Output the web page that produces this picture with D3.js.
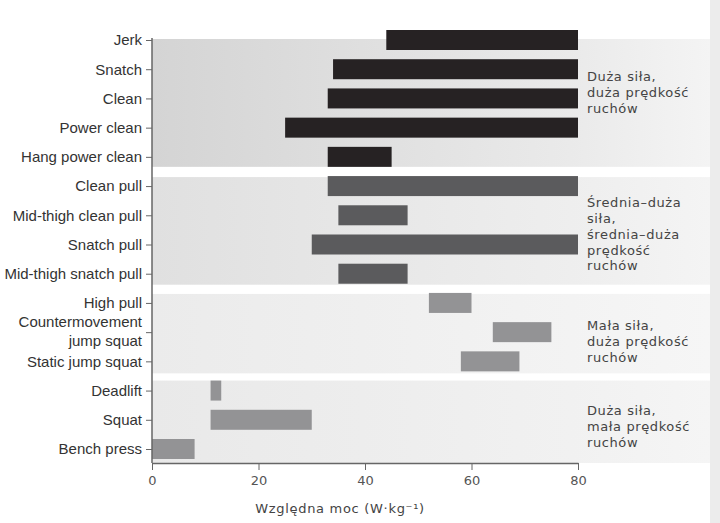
<!DOCTYPE html>
<html><head><meta charset="utf-8">
<script src="https://cdn.jsdelivr.net/npm/d3@7/dist/d3.min.js"></script>
<style>body{margin:0;background:#fff}svg{display:block}</style>
</head><body>
<svg id="c" width="720" height="523"></svg>
<script>
const categories = ["Jerk","Snatch","Clean","Power clean","Hang power clean","Clean pull","Mid-thigh clean pull","Snatch pull","Mid-thigh snatch pull","High pull","Countermovement jump squat","Static jump squat","Deadlift","Squat","Bench press"];
const startValues = [44,34,33,25,33,33,35,30,35,52,64,58,11,11,0];
const endValues   = [80,80,80,80,45,80,48,80,48,60,75,69,13,30,8];
const groupOf     = [0,0,0,0,0,1,1,1,1,2,2,2,3,3,3];
const groupLabels = [
  ["Duża siła,","duża prędkość","ruchów"],
  ["Średnia–duża","siła,","średnia–duża","prędkość","ruchów"],
  ["Mała siła,","duża prędkość","ruchów"],
  ["Duża siła,","mała prędkość","ruchów"]
];
const groupFirst = ["Jerk","Clean pull","High pull","Deadlift"];
const groupLast  = ["Hang power clean","Mid-thigh snatch pull","Static jump squat","Bench press"];
const xTicks = [0,20,40,60,80];
const xTitle = "Względna moc (W·kg⁻¹)";

const svg = d3.select("#c");
const x = d3.scaleLinear().domain([0,80]).range([152,578]);
const y = d3.scalePoint().domain(categories).range([40,449]);
const barColors = ["#262223","#5b5b5d","#939395","#939395"];
const bandLeft = ["#d4d4d4","#e0e0e0","#ebebeb","#e9e9e9"];
const bandRight = ["#f4f4f4","#f4f4f4","#f6f6f6","#f5f5f5"];
const defs = svg.append("defs");
const bandTops = [y("Jerk")-1, y("Clean pull")-9, y("High pull")-9, y("Deadlift")-10];
const bandBottoms = [y("Hang power clean")+10, y("Mid-thigh snatch pull")+11, y("Static jump squat")+12, 463];

// right strip
svg.append("rect").attr("x",710).attr("y",0).attr("width",10).attr("height",523).attr("fill","#ececec");

groupFirst.forEach((g,i)=>{
  const gr = defs.append("linearGradient").attr("id","bg"+i).attr("x1","0").attr("x2","1").attr("y1","0").attr("y2","0");
  gr.append("stop").attr("offset","0").attr("stop-color",bandLeft[i]);
  gr.append("stop").attr("offset","0.75").attr("stop-color",d3.interpolateRgb(bandLeft[i],bandRight[i])(0.7));
  gr.append("stop").attr("offset","1").attr("stop-color",bandRight[i]);
  svg.append("rect").attr("x",x(0)).attr("y",bandTops[i]).attr("width",710-x(0)).attr("height",bandBottoms[i]-bandTops[i]).attr("fill","url(#bg"+i+")");
});

// bars
svg.append("g").selectAll("rect").data(categories).join("rect")
  .attr("x",(d,i)=>x(startValues[i]))
  .attr("width",(d,i)=>x(endValues[i])-x(startValues[i]))
  .attr("y",d=>y(d)-10).attr("height",20)
  .attr("fill",(d,i)=>barColors[groupOf[i]]);

// y axis
const ya = svg.append("g").attr("transform",`translate(${x(0)},0)`).call(d3.axisLeft(y).tickSize(6).tickPadding(4));
ya.select(".domain").attr("d",`M0,38V463`).attr("stroke","#666").attr("stroke-width",1.5);
ya.selectAll(".tick line").attr("stroke","#666");
ya.selectAll(".tick text").attr("fill","#333").style("font-family","Liberation Sans, Arial, sans-serif").style("font-size","15px")
  .each(function(d){
    if(d==="Countermovement jump squat"){
      const t=d3.select(this); t.text(null);
      t.append("tspan").attr("x",-10).attr("dy","-0.38em").text("Countermovement");
      t.append("tspan").attr("x",-10).attr("dy","1.27em").text("jump squat");
    }
  });

// x axis
const xa = svg.append("g").attr("transform","translate(0,463)").call(d3.axisBottom(x).tickValues(xTicks).tickSize(7).tickSizeOuter(0).tickPadding(6));
xa.select(".domain").attr("stroke","#666").attr("stroke-width",1.5);
xa.selectAll(".tick line").attr("stroke","#666");
xa.selectAll(".tick text").attr("fill","#555").style("font-family","DejaVu Sans, sans-serif").style("font-size","13px");
svg.append("text").attr("x",340).attr("y",513).attr("text-anchor","middle").attr("fill","#444")
  .style("font-family","DejaVu Sans, sans-serif").style("font-size","13px").style("letter-spacing","0.7px").text(xTitle);

// group labels
const labelTop = [77,203,326,411];
groupLabels.forEach((lines,i)=>{
  const t = svg.append("text").attr("x",587).attr("y",labelTop[i]+4).attr("fill","#444")
    .style("font-family","DejaVu Sans, sans-serif").style("font-size","13px").style("letter-spacing","0.6px");
  lines.forEach((l,j)=>t.append("tspan").attr("x",587).attr("dy",j?"1.22em":0).text(l));
});
</script>
</body></html>
